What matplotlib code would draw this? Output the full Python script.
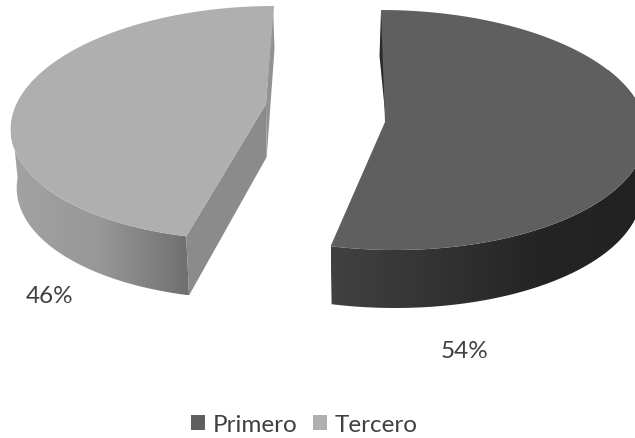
import numpy as np
import matplotlib
matplotlib.use('Agg')
import matplotlib.pyplot as plt
from matplotlib.patches import Polygon, Patch
from matplotlib.colors import LinearSegmentedColormap

plt.rcParams['font.family'] = ['Lato', 'DejaVu Sans']

categories = ['Primero', 'Tercero']
shares = [54, 46]
pct_labels = ['54%', '46%']
face_colors = ['#5f5f5f', '#afafaf']
side_ramps = [['#414141', '#333333', '#242424', '#222222'], ['#a3a3a3', '#979797', '#6f6f6f']]
inner_colors = ['#2a2a2a', '#8b8b8b']

# exploded wedges: top ellipse and the slightly smaller bottom ellipse, in pixels
top_rims = [(388, 131, 258, 120, -7), (261, 124, 250, 117, 13)]
bottom_rims = [(388, 189, 254, 120, -7), (262, 183, 245, 117, 12.4)]
side_ranges = [(60, None), (None, 272)]


def rim(ell, t0, t1):
    cx, cy, a, b, s = ell
    t = np.radians(np.linspace(t0, t1, 200))
    return np.column_stack([cx + a*np.sin(t) + s*np.cos(t), cy - b*np.cos(t)])


fig = plt.figure(figsize=(6.35, 4.39), dpi=100, facecolor='white')
ax = fig.add_axes([0, 0, 1, 1])
ax.set_xlim(0, 635)
ax.set_ylim(439, 0)
ax.axis('off')

split = 360*shares[0]/sum(shares)
slices = [(0, split), (split, 360)]

for i in range(2):
    t0, t1 = slices[i]
    side_t0 = side_ranges[i][0] if side_ranges[i][0] is not None else t0
    side_t1 = side_ranges[i][1] if side_ranges[i][1] is not None else t1

    # outer wall, shaded from left to right
    wall = np.vstack([rim(top_rims[i], side_t0, side_t1),
                      rim(bottom_rims[i], side_t1, side_t0)])
    xa, xb = wall[:, 0].min(), wall[:, 0].max()
    ya, yb = wall[:, 1].min(), wall[:, 1].max()
    cmap = LinearSegmentedColormap.from_list('wall%d' % i, side_ramps[i])
    im = ax.imshow(np.linspace(0, 1, 256).reshape(1, -1), cmap=cmap, aspect='auto',
                   extent=(xa, xb, yb, ya), zorder=2)
    im.set_clip_path(Polygon(wall, transform=ax.transData))

    top = rim(top_rims[i], t0, t1)
    if i == 0:
        apex = (385, 123)
        sliver = [(381, 12), (379.5, 57), (385, 113), (387, 120), (389, 113), (383.5, 33)]
        ax.add_patch(Polygon(sliver, fc=inner_colors[i], ec='none', zorder=3))
    else:
        apex = (266, 105)
        sliver = [(273, 6), (274.5, 50), (266.7, 158), (266, 105)]
        ax.add_patch(Polygon(sliver, fc='#929292', ec='none', zorder=3))
        # cut face running down to the front corner
        cut = [top[0], apex, (266.7, 158), rim(bottom_rims[i], t0, t0)[0]]
        ax.add_patch(Polygon(cut, fc=inner_colors[i], ec='none', zorder=3))

    ax.add_patch(Polygon(np.vstack([top, [apex]]), fc=face_colors[i], ec='none', zorder=4))

ax.text(465, 352, pct_labels[0], ha='center', va='center', fontsize=17.5, color='#404040')
ax.text(50, 297, pct_labels[1], ha='center', va='center', fontsize=17.5, color='#404040')

handles = [Patch(fc=face_colors[i], ec='none', label=categories[i]) for i in range(2)]
ax.legend(handles=handles, loc='center', bbox_to_anchor=(304.5/635, 1 - 426/439), ncol=2,
          frameon=False, fontsize=17.5, handlelength=0.58, handleheight=0.58,
          handletextpad=0.33, columnspacing=0.62, labelcolor='#404040', borderpad=0)

fig.savefig('out.png', dpi=100)
